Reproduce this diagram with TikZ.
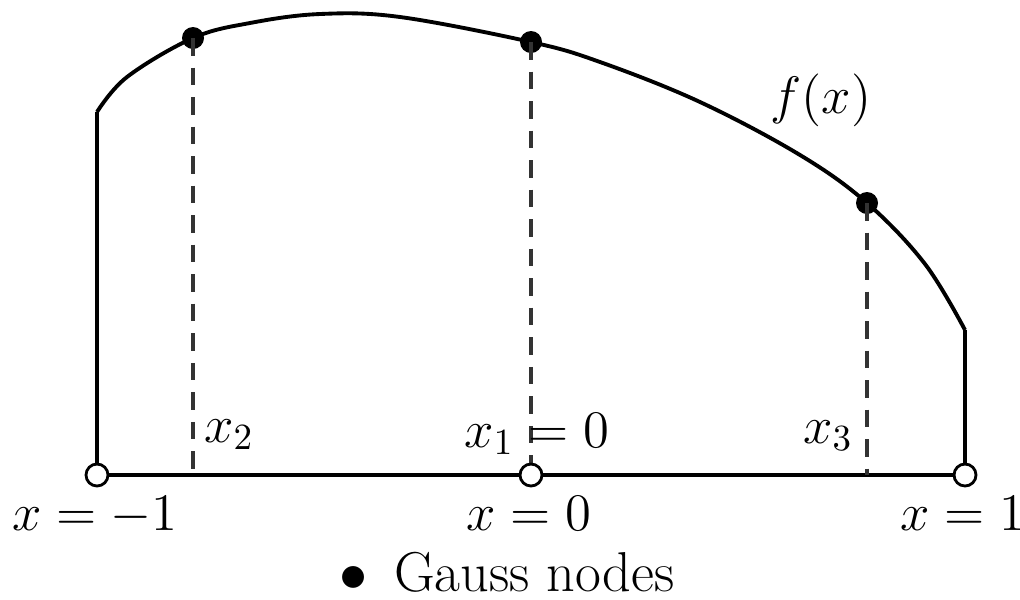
\RequirePackage{fix-cm}
\documentclass[tikz,border=0pt]{standalone}
\begin{document}
\begin{tikzpicture}[x=1cm, y=1cm, font=\fontsize{15}{18}\selectfont,
    solidline/.style={line width=1.1pt, black},
    guide/.style={line width=0.9pt, black!80, dash pattern=on 5pt off 3.4pt},
    gaussdot/.style={circle, fill=black, inner sep=0pt, minimum size=0.22cm},
    opendot/.style={circle, draw=black, fill=white, line width=0.8pt, inner sep=0pt, minimum size=0.22cm}]

    \useasboundingbox (0,0) rectangle (10.2,5.99);

    % 1. Points on the axis and the ends of the curve
    \coordinate (L)  at (0.97, 1.24);  % x = -1
    \coordinate (M)  at (5.31, 1.24);  % x = 0
    \coordinate (R)  at (9.65, 1.24);  % x = 1
    \coordinate (TL) at (0.97, 4.87);
    \coordinate (TR) at (9.65, 2.69);

    % feet of the dashed lines
    \coordinate (A2) at (1.93, 1.24);
    \coordinate (A3) at (8.67, 1.24);

    % 2. Frame: two sides and the axis
    \draw[solidline] (TL) -- (L) -- (R) -- (TR);

    % 3. The curve f(x)
    \draw[solidline] plot[smooth, tension=0.6] coordinates {
        (0.97,4.87) (1.27,5.22) (1.93,5.61) (2.50,5.76) (3.20,5.85)
        (4.00,5.82) (5.31,5.57) (6.00,5.37) (7.00,4.97) (8.00,4.44)
        (8.67,3.96) (9.25,3.35) (9.65,2.69)};

    % 4. Gauss nodes on the curve
    \node[gaussdot] (G2) at (1.93, 5.61) {};
    \node[gaussdot] (G1) at (5.31, 5.57) {};
    \node[gaussdot] (G3) at (8.67, 3.96) {};

    % 5. Dashed lines down to the axis
    \draw[guide] (G2.center) -- (A2);
    \draw[guide] (G1.center) -- (M);
    \draw[guide] (G3.center) -- (A3);

    % 6. Open points on the axis
    \node[opendot] (PL) at (L) {};
    \node[opendot] (PM) at (M) {};
    \node[opendot] (PR) at (R) {};

    % 7. Labels
    \node[anchor=base] (lx2) at (2.29, 1.57) {$x_2$};
    \node[anchor=base] (lx1) at (5.37, 1.52) {$x_1 = 0$};
    \node[anchor=base] (lx3) at (8.28, 1.56) {$x_3$};
    \node[anchor=base] (lf)  at (8.21, 4.86) {$f(x)$};
    \node[anchor=base] (lL)  at (0.95, 0.69) {$x = -1$};
    \node[anchor=base] (lM)  at (5.29, 0.69) {$x = 0$};
    \node[anchor=base] (lR)  at (9.63, 0.69) {$x = 1$};
    \node[anchor=base, font=\fontsize{16}{19}\selectfont, inner ysep=1pt] (key) at (5.07, 0.08) {$\bullet$\, Gauss nodes};

\end{tikzpicture}
\end{document}
